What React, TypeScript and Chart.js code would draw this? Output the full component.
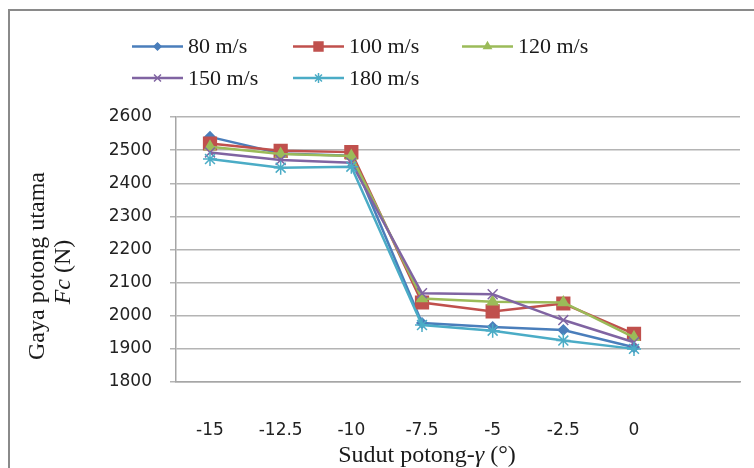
import React, { useEffect, useRef } from "react";
import { Chart, registerables } from "chart.js";
import { drawPoint } from "chart.js/helpers";

Chart.register(...registerables);

// ---- data ----
const angles = [-15, -12.5, -10, -7.5, -5, -2.5, 0];
const seriesNames = ["80 m/s", "100 m/s", "120 m/s", "150 m/s", "180 m/s"];
const fc80 = [2540, 2490, 2483, 1978, 1966, 1957, 1905];
const fc100 = [2520, 2498, 2494, 2040, 2013, 2037, 1945];
const fc120 = [2510, 2488, 2482, 2052, 2042, 2040, 1935];
const fc150 = [2493, 2470, 2462, 2068, 2065, 1987, 1920];
const fc180 = [2473, 2447, 2450, 1972, 1955, 1925, 1900];
const yMin = 1800;
const yMax = 2600;
const yStep = 100;

const seriesValues = [fc80, fc100, fc120, fc150, fc180];
const colors = ["#4A7EBB", "#C0504D", "#9BBB59", "#8064A2", "#4BACC6"];
const pointStyles = ["rectRot", "rect", "triangle", "crossRot", "star"];
const pointRadii = [5, 9, 6, 7, 7];

const SERIF = "'Liberation Serif', 'Times New Roman', serif";
const SANS = "'DejaVu Sans', Verdana, sans-serif";

const overlayPlugin = {
  id: "overlay",
  afterDraw(chart: any) {
    const ctx: CanvasRenderingContext2D = chart.ctx;
    ctx.save();
    // legend
    const colX = [132, 293, 462];
    const rowY = [46.5, 78];
    chart.data.datasets.forEach((ds: any, i: number) => {
      const x0 = colX[i % 3];
      const y0 = rowY[Math.floor(i / 3)];
      ctx.strokeStyle = ds.borderColor;
      ctx.lineWidth = 2.5;
      ctx.beginPath();
      ctx.moveTo(x0, y0);
      ctx.lineTo(x0 + 51, y0);
      ctx.stroke();
      ctx.fillStyle = ds.borderColor;
      ctx.strokeStyle = ds.borderColor;
      ctx.lineWidth = 1.5;
      drawPoint(ctx, { pointStyle: ds.pointStyle, radius: ds.pointRadius * 0.7, rotation: 0, borderWidth: 1.5 } as any, x0 + 25.5, y0);
      ctx.fillStyle = "#1a1a1a";
      ctx.font = `22px ${SERIF}`;
      ctx.textBaseline = "middle";
      ctx.textAlign = "left";
      ctx.fillText(ds.label, x0 + 56, y0 + 1);
    });

    // x title
    ctx.fillStyle = "#1a1a1a";
    ctx.textBaseline = "alphabetic";
    const parts: [string, string][] = [
      ["Sudut potong-", `24px ${SERIF}`],
      ["\u03B3", `italic 24px ${SERIF}`],
      [" (\u00B0)", `24px ${SERIF}`],
    ];
    let total = 0;
    parts.forEach(([t, f]) => { ctx.font = f; total += ctx.measureText(t).width; });
    let x = 427 - total / 2;
    ctx.textAlign = "left";
    parts.forEach(([t, f]) => { ctx.font = f; ctx.fillText(t, x, 462); x += ctx.measureText(t).width; });

    // y title (rotated)
    ctx.save();
    ctx.translate(44, 266);
    ctx.rotate(-Math.PI / 2);
    ctx.font = `24px ${SERIF}`;
    ctx.textAlign = "center";
    ctx.fillText("Gaya potong utama", 0, 0);
    ctx.restore();

    ctx.save();
    ctx.translate(70, 272);
    ctx.rotate(-Math.PI / 2);
    const p2: [string, string][] = [
      ["Fc", `italic 24px ${SERIF}`],
      [" (N)", `24px ${SERIF}`],
    ];
    let t2 = 0;
    p2.forEach(([t, f]) => { ctx.font = f; t2 += ctx.measureText(t).width; });
    let xx = -t2 / 2;
    ctx.textAlign = "left";
    p2.forEach(([t, f]) => { ctx.font = f; ctx.fillText(t, xx, 0); xx += ctx.measureText(t).width; });
    ctx.restore();

    ctx.restore();
  },
};

export default function App() {
  const ref = useRef<HTMLCanvasElement | null>(null);

  useEffect(() => {
    if (!ref.current) return;
    const datasets = seriesNames.map((name, i) => ({
      label: name,
      data: angles.map((a, j) => ({ x: a, y: seriesValues[i][j] })),
      borderColor: colors[i],
      backgroundColor: colors[i],
      pointBackgroundColor: colors[i],
      pointBorderColor: colors[i],
      pointStyle: pointStyles[i],
      pointRadius: pointRadii[i],
      pointBorderWidth: 1.5,
      borderWidth: 2.5,
      tension: 0,
      order: seriesNames.length - 1 - i,
    }));

    const chart = new Chart(ref.current, {
      type: "line",
      data: { datasets } as any,
      options: {
        animation: false,
        responsive: false,
        devicePixelRatio: 1,
        layout: { padding: { top: 117, right: 14, left: 0, bottom: 0 } },
        plugins: { legend: { display: false }, tooltip: { enabled: false } },
        scales: {
          x: {
            type: "linear",
            min: -16.203,
            max: 3.75,
            grid: { display: false, drawTicks: false },
            border: { display: true, color: "#a6a6a6", width: 1.5 },
            afterBuildTicks: (scale: any) => {
              scale.ticks = angles.map((v) => ({ value: v }));
            },
            afterFit: (scale: any) => {
              scale.height = 86;
            },
            ticks: {
              padding: 38,
              color: "#222",
              font: { family: SANS, size: 17 },
              maxRotation: 0,
              autoSkip: false,
              callback: (v: any) => String(v),
            },
          },
          y: {
            min: yMin,
            max: yMax,
            grid: { color: "#b4b4b4", lineWidth: 1.5, tickLength: 6, drawTicks: true },
            border: { display: true, color: "#a6a6a6", width: 1.5 },
            afterFit: (scale: any) => {
              scale.width = 176;
            },
            ticks: {
              stepSize: yStep,
              padding: 18,
              color: "#222",
              font: { family: SANS, size: 17 },
              callback: (v: any) => String(v),
            },
          },
        },
      } as any,
      plugins: [overlayPlugin],
    });
    return () => chart.destroy();
  }, []);

  return (
    <div style={{ position: "fixed", left: 0, top: 0, width: 754, height: 468, background: "#fff", overflow: "hidden" }}>
      <div
        style={{
          position: "absolute",
          left: 8,
          top: 9,
          width: 800,
          height: 500,
          borderLeft: "2px solid #8a8a8a",
          borderTop: "2px solid #8a8a8a",
        }}
      />
      <canvas ref={ref} width={754} height={468} style={{ position: "absolute", left: 0, top: 0 }} />
    </div>
  );
}
